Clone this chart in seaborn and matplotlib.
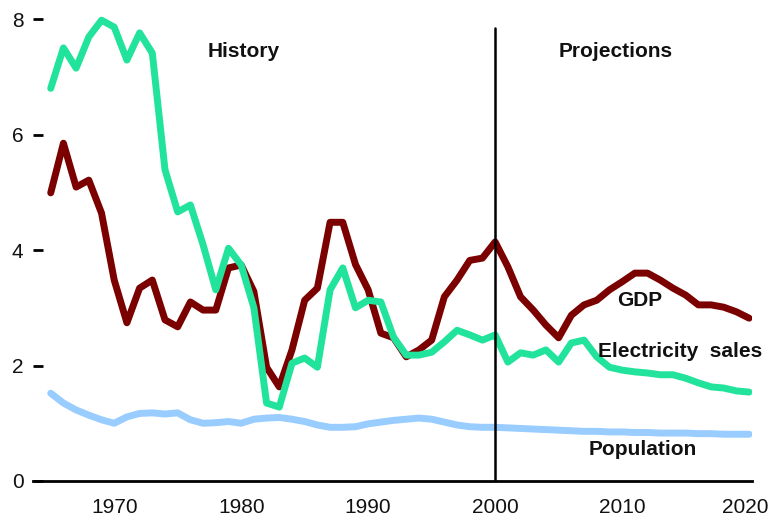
import matplotlib
matplotlib.use("Agg")
import matplotlib.pyplot as plt
import matplotlib.transforms as mtransforms
import numpy as np
import pandas as pd
import seaborn as sns

#%% Data (annual growth, percent)
years = list(range(1965, 2021))

electricity_sales = [6.80, 7.50, 7.15, 7.69, 7.98, 7.86, 7.29, 7.76, 7.41, 5.39,
                     4.66, 4.78, 4.09, 3.31, 4.03, 3.74, 3.00, 1.35, 1.28, 2.04,
                     2.13, 1.97, 3.31, 3.69, 3.00, 3.13, 3.10, 2.49, 2.18, 2.18,
                     2.23, 2.41, 2.61, 2.53, 2.44, 2.53, 2.06, 2.22, 2.18, 2.27,
                     2.06, 2.39, 2.44, 2.15, 1.97, 1.92, 1.89, 1.87, 1.84, 1.84,
                     1.78, 1.70, 1.63, 1.61, 1.56, 1.54]

gdp = [4.99, 5.85, 5.09, 5.21, 4.64, 3.48, 2.74, 3.34, 3.48, 2.79,
       2.67, 3.10, 2.96, 2.96, 3.69, 3.74, 3.28, 1.97, 1.63, 2.27,
       3.13, 3.34, 4.48, 4.48, 3.75, 3.31, 2.56, 2.48, 2.15, 2.27,
       2.44, 3.19, 3.48, 3.82, 3.86, 4.14, 3.71, 3.19, 2.96, 2.70,
       2.48, 2.87, 3.05, 3.13, 3.31, 3.45, 3.60, 3.60, 3.48, 3.34,
       3.22, 3.05, 3.05, 3.01, 2.93, 2.82]

population = [1.52, 1.35, 1.23, 1.14, 1.06, 1.00, 1.11, 1.17, 1.18, 1.16,
              1.18, 1.06, 1.00, 1.01, 1.03, 1.00, 1.07, 1.09, 1.10, 1.07,
              1.03, 0.97, 0.93, 0.93, 0.94, 0.99, 1.02, 1.05, 1.07, 1.09,
              1.07, 1.02, 0.97, 0.94, 0.93, 0.93, 0.92, 0.91, 0.90, 0.89,
              0.88, 0.87, 0.86, 0.86, 0.85, 0.85, 0.84, 0.84, 0.83, 0.83,
              0.83, 0.82, 0.82, 0.81, 0.81, 0.81]

series_names = ['Electricity sales', 'GDP', 'Population']
series_colors = ['#22E39B', '#7B0000', '#99CCFF']

x_ticks = [1970, 1980, 1990, 2000, 2010, 2020]
y_ticks = [0, 2, 4, 6, 8]

#%% Long-form table for seaborn
data = pd.DataFrame({
    'Year': years * 3,
    'Value': electricity_sales + gdp + population,
    'Series': [series_names[0]] * len(years) + [series_names[1]] * len(years)
              + [series_names[2]] * len(years),
})

#%% Figure
sns.set_style("white")
plt.rcParams['font.family'] = ['Liberation Sans', 'DejaVu Sans']

fig = plt.figure(figsize=(7.72, 5.20), dpi=100)
ax = fig.add_axes([0.043, 0.075, 0.9313, 0.9217])

sns.lineplot(data=data, x='Year', y='Value', hue='Series',
             hue_order=series_names[::-1], palette=dict(zip(series_names, series_colors)),
             linewidth=5, legend=False, ax=ax)

# divider between history and projections
ax.plot([2000, 2000], [0, 7.84], color='black', linewidth=1.8)

ax.set_xlim(1963.62, 2020.24)
ax.set_ylim(0, 8.3)
ax.set_xticks(x_ticks)
ax.set_yticks(y_ticks)
ax.set_xlabel('')
ax.set_ylabel('')

for side in ['top', 'right', 'left']:
    ax.spines[side].set_visible(False)
ax.spines['bottom'].set_linewidth(2)
ax.spines['bottom'].set_color('black')

ax.tick_params(axis='x', length=0, pad=12, labelsize=15, labelcolor='#111111')
ax.tick_params(axis='y', direction='in', length=7, width=2, color='black',
               pad=7, labelsize=15, labelcolor='#111111', left=True)
# nudge the last year label a few pixels left so it stays inside the canvas
last = ax.get_xticklabels()[-1]
last.set_transform(last.get_transform()
                   + mtransforms.ScaledTranslation(-4 / 100, 0, fig.dpi_scale_trans))

txt = dict(fontsize=15, fontweight='bold', ha='center', va='center', color='#111111')
ax.text(1980.2, 7.43, 'History', **txt)
ax.text(2009.5, 7.43, 'Projections', **txt)
ax.text(2011.4, 3.13, 'GDP', **txt)
ax.text(2014.6, 2.25, 'Electricity  sales', **txt)
ax.text(2011.6, 0.55, 'Population', **txt)

fig.savefig('out.png', dpi=100)
